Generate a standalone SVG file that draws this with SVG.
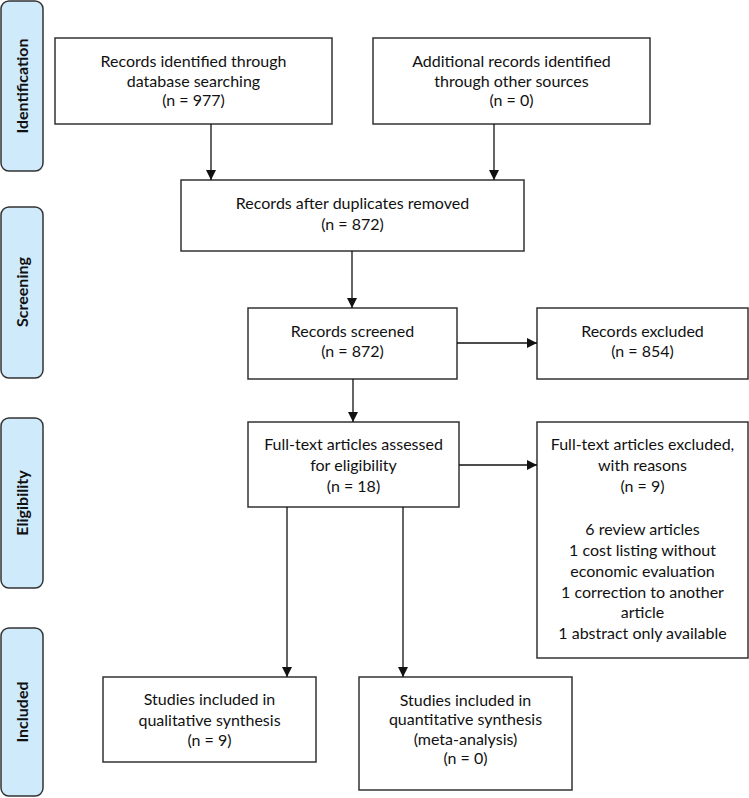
<svg xmlns="http://www.w3.org/2000/svg" width="749" height="798" viewBox="0 0 749 798">
<style>
.box{fill:#fff;stroke:#333;stroke-width:1.5}
.side{fill:#cfeafb;stroke:#333;stroke-width:1.5}
.t{font-family:Lato,"Liberation Sans",sans-serif;font-size:16px;fill:#111;text-anchor:middle}
.s{font-family:Lato,"Liberation Sans",sans-serif;font-size:16px;font-weight:bold;fill:#111;text-anchor:middle}
.c{stroke:#111;stroke-width:1.3;fill:none;marker-end:url(#ah)}
</style>
<defs>
<marker id="ah" viewBox="0 0 10 10" refX="10" refY="5" markerWidth="10" markerHeight="10" markerUnits="userSpaceOnUse" orient="auto">
<path d="M0,0 L10,5 L0,10 Z" fill="#111"/>
</marker>
</defs>
<rect width="749" height="798" fill="#fff"/>
<g id="side-identification"><rect class="side" x="1" y="1" width="42" height="170" rx="8"/><text class="s" transform="translate(28,86) rotate(-90)">Identification</text></g>
<g id="side-screening"><rect class="side" x="1" y="207" width="42" height="171" rx="8"/><text class="s" transform="translate(28,292) rotate(-90)">Screening</text></g>
<g id="side-eligibility"><rect class="side" x="1" y="418" width="42" height="170" rx="8"/><text class="s" transform="translate(28,503) rotate(-90)">Eligibility</text></g>
<g id="side-included"><rect class="side" x="1" y="628" width="42" height="168" rx="8"/><text class="s" transform="translate(28,712) rotate(-90)">Included</text></g>

<g id="n-db"><rect class="box" x="55" y="38" width="277" height="86"/>
<text class="t" x="193.5" y="67">Records identified through</text>
<text class="t" x="193.5" y="87">database searching</text>
<text class="t" x="193.5" y="106">(n = 977)</text></g>

<g id="n-other"><rect class="box" x="373" y="38" width="277" height="86"/>
<text class="t" x="511.5" y="67">Additional records identified</text>
<text class="t" x="511.5" y="87">through other sources</text>
<text class="t" x="511.5" y="106">(n = 0)</text></g>

<g id="n-dup"><rect class="box" x="181" y="180" width="343" height="71"/>
<text class="t" x="352.5" y="209">Records after duplicates removed</text>
<text class="t" x="352.5" y="230">(n = 872)</text></g>

<g id="n-screened"><rect class="box" x="248" y="308" width="209" height="71"/>
<text class="t" x="352.5" y="337">Records screened</text>
<text class="t" x="352.5" y="357">(n = 872)</text></g>

<g id="n-excluded"><rect class="box" x="537" y="308" width="211" height="71"/>
<text class="t" x="642.5" y="337">Records excluded</text>
<text class="t" x="642.5" y="357">(n = 854)</text></g>

<g id="n-fulltext"><rect class="box" x="248" y="422" width="211" height="85"/>
<text class="t" x="353.5" y="450">Full-text articles assessed</text>
<text class="t" x="353.5" y="471">for eligibility</text>
<text class="t" x="353.5" y="492">(n = 18)</text></g>

<g id="n-ftexcluded"><rect class="box" x="537" y="422" width="211" height="236"/>
<text class="t" x="642.5" y="450">Full-text articles excluded,</text>
<text class="t" x="642.5" y="471">with reasons</text>
<text class="t" x="642.5" y="492">(n = 9)</text>
<text class="t" x="642.5" y="535">6 review articles</text>
<text class="t" x="642.5" y="556">1 cost listing without</text>
<text class="t" x="642.5" y="577">economic evaluation</text>
<text class="t" x="642.5" y="598">1 correction to another</text>
<text class="t" x="642.5" y="618">article</text>
<text class="t" x="642.5" y="639">1 abstract only available</text></g>

<g id="n-qual"><rect class="box" x="103" y="677" width="213" height="85"/>
<text class="t" x="209.5" y="705">Studies included in</text>
<text class="t" x="209.5" y="726">qualitative synthesis</text>
<text class="t" x="209.5" y="746">(n = 9)</text></g>

<g id="n-quant"><rect class="box" x="359" y="677" width="213" height="113"/>
<text class="t" x="465.5" y="706">Studies included in</text>
<text class="t" x="465.5" y="725">quantitative synthesis</text>
<text class="t" x="465.5" y="745">(meta-analysis)</text>
<text class="t" x="465.5" y="764">(n = 0)</text></g>

<g id="connectors">
<line class="c" x1="211" y1="124" x2="211" y2="180"/>
<line class="c" x1="494" y1="124" x2="494" y2="180"/>
<line class="c" x1="352" y1="251" x2="352" y2="308"/>
<line class="c" x1="457" y1="343" x2="537" y2="343"/>
<line class="c" x1="353" y1="379" x2="353" y2="422"/>
<line class="c" x1="459" y1="465" x2="537" y2="465"/>
<line class="c" x1="287" y1="507" x2="287" y2="677"/>
<line class="c" x1="403" y1="507" x2="403" y2="677"/>
</g>
</svg>
